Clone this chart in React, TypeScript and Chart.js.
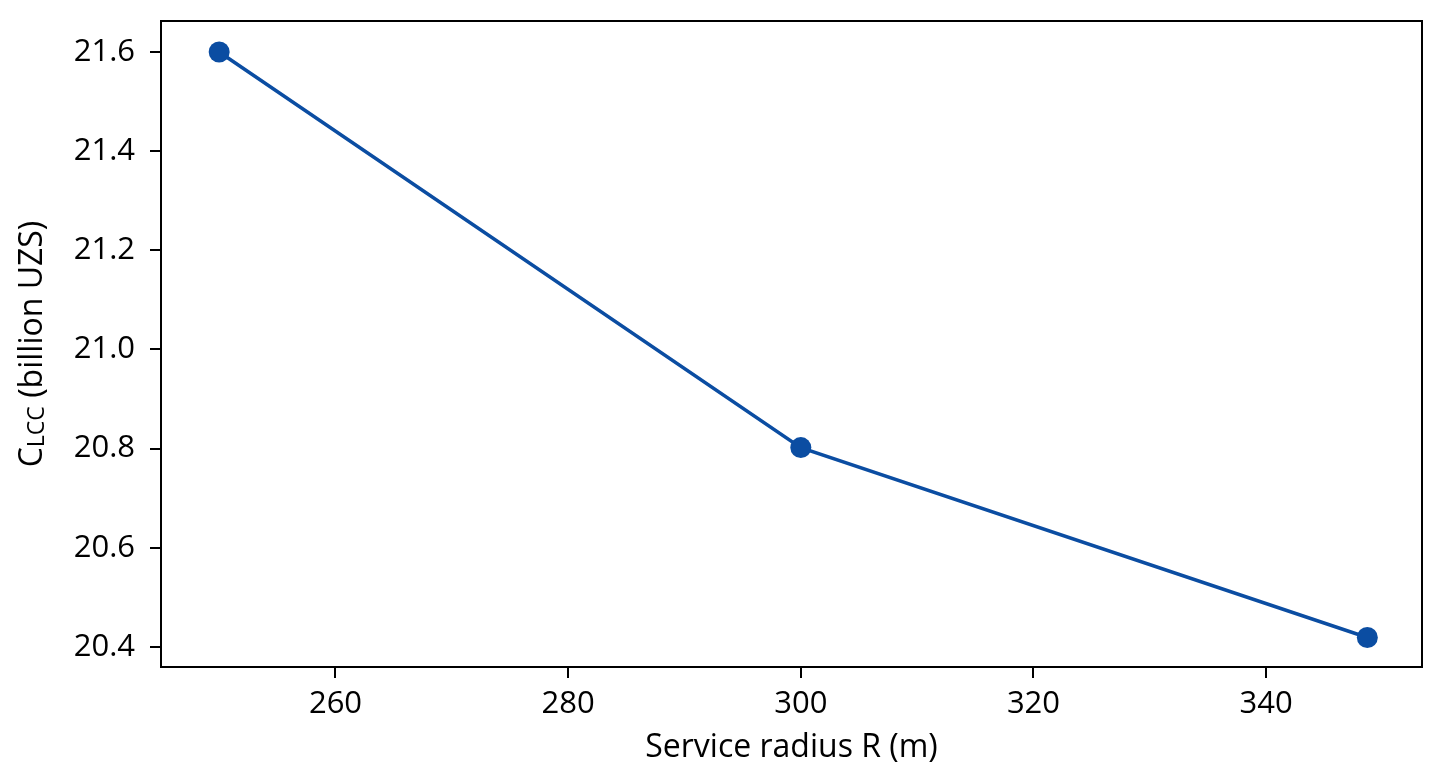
import React, { useEffect, useRef } from "react";
import { Chart, registerables } from "chart.js";

Chart.register(...registerables);

// ---- data ----
const radiusValues: number[] = [250, 300, 348.7];
const costValues: number[] = [21.6, 20.802, 20.419];
const xTickValues: number[] = [260, 280, 300, 320, 340];
const yTickValues: number[] = [20.4, 20.6, 20.8, 21.0, 21.2, 21.4, 21.6];
const xTitle = "Service radius R (m)";
const yTitleMain = "C";
const yTitleSub = "LCC";
const yTitleRest = " (billion UZS)";

const FONT = "'Open Sans', 'Noto Sans', sans-serif";
const LINE_COLOR = "#0b4da2";

const framePlugin = {
  id: "frame",
  afterDatasetsDraw(chart: any) {
    const { ctx, chartArea } = chart;
    ctx.save();
    ctx.strokeStyle = "#000";
    ctx.lineWidth = 2;
    ctx.strokeRect(chartArea.left, chartArea.top, chartArea.right - chartArea.left, chartArea.bottom - chartArea.top);
    ctx.restore();
  },
};

const yTitlePlugin = {
  id: "yTitle",
  afterDraw(chart: any) {
    const { ctx, chartArea } = chart;
    const cy = (chartArea.top + chartArea.bottom) / 2;
    const baseX = 42;
    const big = 32;
    const small = 23;
    ctx.save();
    ctx.fillStyle = "#000";
    ctx.textBaseline = "alphabetic";
    ctx.textAlign = "left";
    ctx.font = `${big}px ${FONT}`;
    const wMain = ctx.measureText(yTitleMain).width;
    const wRest = ctx.measureText(yTitleRest).width;
    ctx.font = `${small}px ${FONT}`;
    const wSub = ctx.measureText(yTitleSub).width;
    const total = wMain + wSub + wRest;
    ctx.translate(baseX, cy);
    ctx.rotate(-Math.PI / 2);
    let x = -total / 2;
    ctx.font = `${big}px ${FONT}`;
    ctx.fillText(yTitleMain, x, 0);
    x += wMain;
    ctx.font = `${small}px ${FONT}`;
    ctx.fillText(yTitleSub, x, 2);
    x += wSub;
    ctx.font = `${big}px ${FONT}`;
    ctx.fillText(yTitleRest, x, 0);
    ctx.restore();
  },
};

export default function App() {
  const canvasRef = useRef<HTMLCanvasElement | null>(null);

  useEffect(() => {
    if (!canvasRef.current) return;
    const points = radiusValues.map((r, i) => ({ x: r, y: costValues[i] }));
    const chart = new Chart(canvasRef.current, {
      type: "line",
      data: {
        datasets: [
          {
            data: points,
            borderColor: LINE_COLOR,
            backgroundColor: LINE_COLOR,
            borderWidth: 3.5,
            pointRadius: 10.5,
            pointHoverRadius: 10.5,
            pointBorderWidth: 0,
            pointBackgroundColor: LINE_COLOR,
            tension: 0,
            fill: false,
            clip: false as any,
          },
        ],
      },
      options: {
        animation: false,
        responsive: true,
        maintainAspectRatio: false,
        layout: { padding: { left: 0, top: 21, right: 19, bottom: 0 } },
        plugins: {
          legend: { display: false },
          tooltip: { enabled: false },
        },
        scales: {
          x: {
            type: "linear",
            min: 245.0,
            max: 353.4,
            afterFit(scale: any) {
              scale.height = 108;
              scale.paddingLeft = 0;
              scale.paddingRight = 0;
            },
            afterBuildTicks(scale: any) {
              scale.ticks = xTickValues.map((v) => ({ value: v }));
            },
            grid: {
              display: true,
              drawOnChartArea: false,
              drawTicks: true,
              tickLength: 11,
              tickWidth: 2,
              color: "#000",
              lineWidth: 2,
            },
            border: { display: false },
            ticks: {
              padding: 8,
              color: "#000",
              font: { family: FONT, size: 31 },
              callback: (v: any) => String(v),
              maxRotation: 0,
            },
            title: {
              display: true,
              text: xTitle,
              color: "#000",
              font: { family: FONT, size: 32 },
              padding: { top: 0, bottom: 8 },
            },
          },
          y: {
            type: "linear",
            min: 20.3595,
            max: 21.6625,
            afterFit(scale: any) {
              scale.width = 161;
              scale.paddingTop = 0;
              scale.paddingBottom = 0;
            },
            afterBuildTicks(scale: any) {
              scale.ticks = yTickValues.map((v) => ({ value: v }));
            },
            grid: {
              display: true,
              drawOnChartArea: false,
              drawTicks: true,
              tickLength: 11,
              tickWidth: 2,
              color: "#000",
              lineWidth: 2,
            },
            border: { display: false },
            ticks: {
              padding: 15,
              color: "#000",
              font: { family: FONT, size: 31 },
              callback: (v: any) => Number(v).toFixed(1),
            },
          },
        },
      },
      plugins: [framePlugin, yTitlePlugin],
    });
    return () => chart.destroy();
  }, []);

  return (
    <div style={{ position: "absolute", left: 0, top: 0, width: 1441, height: 775, background: "#fff" }}>
      <canvas ref={canvasRef} />
    </div>
  );
}
